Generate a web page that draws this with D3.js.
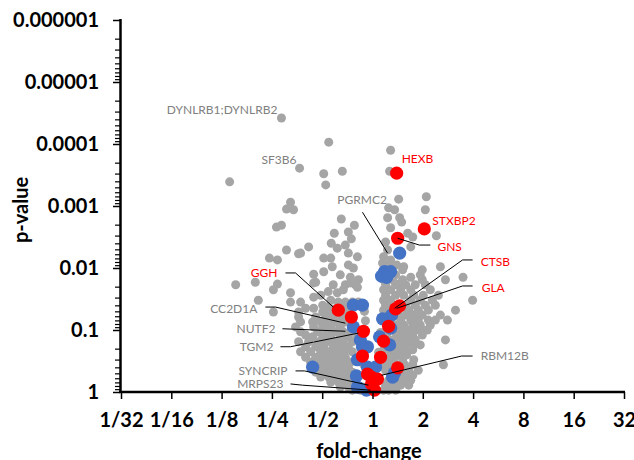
<!DOCTYPE html>
<html>
<head>
<meta charset="utf-8">
<script src="https://d3js.org/d3.v7.min.js"></script>
<style>
  body { margin: 0; background: #fff; }
  svg { display: block; }
</style>
</head>
<body>
<script>
// values: [log2 fold-change, -log10 p-value]
var greyPoints = [
  [-1.81,4.42],[-0.87,4.03],[0.36,3.90],[-1.45,3.61],[-0.97,3.52],[-0.60,3.56],[0.34,3.56],[-0.93,3.34],[-2.84,3.39],
  [-1.63,3.06],[-1.71,2.95],[-1.57,2.94],[-1.91,2.66],[-1.81,2.69],
  [0.52,3.11],[1.07,3.15],[1.05,2.94],[1.27,2.52],
  [-0.62,2.79],[-0.36,2.69],[-0.76,2.56],[-0.48,2.58],[-0.42,2.47],[-0.54,2.37],[-0.82,2.40],[-0.70,2.32],[-1.27,2.34],[-1.71,2.29],
  [0.32,2.97],[0.44,2.94],[0.30,2.81],[0.54,2.81],[0.58,2.74],[0.36,2.65],[0.80,2.50],[0.70,2.56],[0.26,2.42],[0.30,2.29],[0.22,2.18],[0.20,2.08],[0.76,2.34],
  [0.99,1.97],[1.35,2.02],[1.80,1.85],[1.45,1.81],[0.76,1.85],[0.62,2.02],[0.56,1.76],
  [-1.43,2.24],[-0.48,2.24],[-0.30,2.18],[-0.97,2.16],[-0.83,2.16],[-0.80,2.02],[-0.48,2.05],[-0.38,2.00],[-0.97,1.94],[-0.64,1.89],[-0.44,1.85],[-0.28,1.81],[-1.17,1.76],[-0.78,1.73],[-0.54,1.73],[-0.34,1.73],
  [-1.47,2.23],[-2.05,2.16],[-1.89,2.13],[-1.17,1.90],[-1.13,1.77],[-2.72,1.73],[-2.33,1.77],[-1.89,1.74],[-1.97,1.65],[-1.63,1.60],[-1.17,1.53],[-2.27,1.48],[-1.97,1.29],[-1.47,1.21],[-1.33,1.35],[-1.17,1.35],[-0.99,1.40],[-1.19,1.13],[-1.33,0.92],[-1.19,0.89],
  [-0.83,1.48],[-0.70,1.60],[-0.58,1.65],[-0.44,1.76],[-0.30,1.69],[-1.03,1.56],[-0.88,1.62],
  [-1.63,1.45],[-1.43,1.45],[-0.68,1.45],[-0.54,1.45],[-0.40,1.45],[-0.28,1.45],
  [-0.87,1.37],[-0.70,1.37],[-0.54,1.37],[-0.40,1.37],[-0.16,1.30],
  [-1.47,1.29],[-0.99,1.29],[-0.83,1.29],[-0.68,1.29],[-0.54,1.29],
  [-1.13,1.21],[-0.93,1.21],[-0.78,1.21],[-0.60,1.21],[-0.14,1.15],
  [-1.43,1.13],[-1.03,1.13],[-0.87,1.13],[-0.72,1.13],[-0.54,1.13],
  [-1.53,1.05],[-1.17,1.05],[-0.99,1.05],[-0.82,1.05],[-0.64,1.05],
  [-1.43,0.97],[-1.09,0.97],[-0.91,0.97],[-0.74,0.97],[-0.58,0.97],[-0.44,0.97],
  [-0.99,0.89],[-0.83,0.89],[-0.64,0.89],[-0.48,0.89],[-0.30,0.89],
  [-1.47,0.81],[-1.27,0.81],[-1.07,0.81],[-0.91,0.81],[-0.74,0.81],[-0.58,0.81],[-0.40,0.81],
  [-1.33,0.73],[-1.13,0.73],[-0.97,0.73],[-0.78,0.73],[-0.64,0.73],[-0.48,0.73],
  [-1.43,0.65],[-1.23,0.65],[-1.03,0.65],[-0.87,0.65],[-0.72,0.65],[-0.56,0.65],[-0.40,0.65],
  [-1.33,0.56],[-1.13,0.56],[-0.97,0.56],[-0.83,0.56],[-0.68,0.56],[-0.54,0.56],[-0.16,0.60],
  [-1.23,0.48],[-1.03,0.48],[-0.87,0.48],[-0.74,0.48],[-0.58,0.48],[-0.44,0.48],[-0.18,0.45],
  [-1.07,0.40],[-0.93,0.40],[-0.78,0.40],[-0.64,0.40],[-0.48,0.40],
  [-1.13,0.32],[-0.97,0.32],[-0.83,0.32],[-0.68,0.32],[-0.54,0.32],[-0.40,0.32],
  [-1.03,0.24],[-0.87,0.24],[-0.74,0.24],[-0.60,0.24],[-0.44,0.24],
  [-0.83,0.16],[-0.68,0.16],[-0.54,0.16],[-0.40,0.16],
  [-0.64,0.08],[-0.48,0.08],[-0.34,0.08],[-0.20,0.08],
  [-0.40,0.03],[-0.24,0.03],
  [0.22,0.03],[0.32,0.03],[0.46,0.03],
  [0.26,0.11],[0.40,0.11],[0.56,0.11],[0.72,0.11],
  [0.32,0.19],[0.48,0.19],[0.64,0.19],[0.76,0.19],
  [0.36,0.27],[0.52,0.27],[0.66,0.27],[0.80,0.27],
  [0.26,0.35],[0.56,0.35],[0.72,0.35],[0.91,0.35],
  [0.32,0.44],[0.46,0.44],[0.64,0.44],[0.80,0.44],[1.41,0.44],[0.18,0.44],
  [0.26,0.52],[0.42,0.52],[0.60,0.52],[0.82,0.52],[0.14,0.52],
  [0.36,0.60],[0.52,0.60],[0.68,0.60],[0.12,0.64],
  [0.22,0.68],[0.48,0.68],[0.64,0.68],[0.80,0.68],
  [0.52,0.76],[0.66,0.76],[0.82,0.76],[0.95,0.76],
  [0.40,0.84],[0.56,0.84],[0.72,0.84],[0.85,0.84],[1.45,0.84],
  [0.28,0.92],[0.48,0.92],[0.64,0.92],[0.80,0.92],[0.99,0.92],[0.16,0.96],
  [0.54,1.00],[0.70,1.00],[0.85,1.00],[0.99,1.00],[1.09,1.00],
  [0.46,1.08],[0.62,1.08],[0.80,1.08],[0.95,1.08],[1.15,1.08],
  [0.56,1.16],[0.76,1.16],[0.91,1.16],[1.11,1.16],[1.25,1.16],[1.49,1.16],
  [0.52,1.24],[0.66,1.24],[0.82,1.24],[0.99,1.24],[1.35,1.24],
  [0.22,1.32],[0.36,1.32],[0.72,1.32],[0.91,1.32],[1.11,1.32],[1.65,1.32],
  [0.26,1.40],[0.42,1.40],[0.66,1.40],[0.85,1.40],[1.05,1.40],[1.25,1.40],
  [0.22,1.48],[0.36,1.48],[0.76,1.48],[0.95,1.48],[1.19,1.48],[1.99,1.48],
  [0.26,1.56],[0.46,1.56],[0.62,1.56],[0.82,1.56],[1.01,1.56],[1.31,1.56],
  [0.22,1.65],[0.36,1.65],[0.56,1.65],[0.76,1.65],[1.15,1.65],
  [0.26,1.73],[0.46,1.73],[0.66,1.73],[0.85,1.73],[1.05,1.73],
  [0.22,1.81],[0.40,1.81],[0.60,1.81],[0.99,1.81],
  [0.46,1.89],[0.95,1.89],
  [0.60,1.97],
  [0.32,2.05],[0.48,2.05],
  [0.36,2.13]
];

var bluePoints = [
  [0.54,2.24],[0.24,1.94],[0.36,1.94],[0.28,1.85],[0.18,1.87],
  [-0.38,1.40],[-0.20,1.40],[-0.38,1.05],[0.20,1.18],[0.38,1.24],
  [0.14,0.89],[0.34,0.76],[-0.10,0.73],[-0.30,0.52],[-0.10,0.40],
  [-0.32,0.26],[0.40,0.24],[0.44,0.31],[-0.12,0.03],[-1.19,0.40],
  [-0.30,0.08],[0.06,0.40],[-0.20,0.73],[0.36,1.03],[-0.24,0.84]
];

var redPoints = [
  [0.48,3.53],[1.03,2.63],[0.50,2.48],[0.46,1.34],[0.54,1.39],
  [-0.68,1.32],[-0.42,1.21],[-0.18,0.98],[0.32,1.06],[0.22,0.82],
  [-0.20,0.58],[0.16,0.56],[0.50,0.39],[-0.10,0.29],[0.10,0.21],
  [-0.02,0.24],[0.04,0.03],[-0.02,0.13]
];

var xTickValues = [1/32, 1/16, 1/8, 1/4, 1/2, 1, 2, 4, 8, 16, 32];
var xTickLabels = ['1/32', '1/16', '1/8', '1/4', '1/2', '1', '2', '4', '8', '16', '32'];
var yTickValues = [1, 0.1, 0.01, 0.001, 0.0001, 0.00001, 0.000001];
var yTickLabels = ['1', '0.1', '0.01', '0.001', '0.0001', '0.00001', '0.000001'];

// gene callouts: text anchor and leader path in [log2 fold-change, -log10 p]
var callouts = [
  { name: 'DYNLRB1;DYNLRB2', red: false, at: [-1.89, 4.55], anchor: 'end', path: [] },
  { name: 'SF3B6', red: false, at: [-1.51, 3.74], anchor: 'end', path: [] },
  { name: 'PGRMC2', red: false, at: [-0.70, 3.10], anchor: 'start', path: [[-0.20, 2.90], [0.30, 2.24]] },
  { name: 'HEXB', red: true, at: [0.58, 3.77], anchor: 'start', path: [] },
  { name: 'STXBP2', red: true, at: [1.19, 2.76], anchor: 'start', path: [] },
  { name: 'GNS', red: true, at: [1.29, 2.35], anchor: 'start', path: [[1.15, 2.37], [0.93, 2.37], [0.50, 2.48]] },
  { name: 'CTSB', red: true, at: [2.15, 2.11], anchor: 'start', path: [[1.99, 2.13], [1.79, 2.13], [0.44, 1.35]] },
  { name: 'GLA', red: true, at: [2.17, 1.69], anchor: 'start', path: [[1.99, 1.71], [1.79, 1.71], [0.48, 1.35]] },
  { name: 'RBM12B', red: false, at: [2.15, 0.58], anchor: 'start', path: [[1.99, 0.58], [1.77, 0.58], [0.18, 0.27]] },
  { name: 'GGH', red: true, at: [-1.89, 1.92], anchor: 'end', path: [[-1.73, 1.92], [-1.53, 1.92], [-0.78, 1.37]] },
  { name: 'CC2D1A', red: false, at: [-2.29, 1.35], anchor: 'end', path: [[-2.13, 1.37], [-1.93, 1.37], [-0.54, 1.11]] },
  { name: 'NUTF2', red: false, at: [-1.93, 1.02], anchor: 'end', path: [[-1.79, 1.02], [-0.54, 0.98]] },
  { name: 'TGM2', red: false, at: [-1.97, 0.73], anchor: 'end', path: [[-1.83, 0.73], [-1.63, 0.73], [-0.28, 0.95]] },
  { name: 'SYNCRIP', red: false, at: [-1.69, 0.34], anchor: 'end', path: [[-1.53, 0.34], [-1.35, 0.34], [-0.08, 0.11]] },
  { name: 'MRPS23', red: false, at: [-1.77, 0.13], anchor: 'end', path: [[-1.63, 0.13], [-1.39, 0.11], [-0.04, 0.03]] }
];

(function () {
  var W = 634, H = 460;
  var font = 'Lato, "Open Sans", sans-serif';

  var svg = d3.select('body').append('svg')
    .attr('width', W)
    .attr('height', H)
    .style('background', '#fff');

  var x = d3.scaleLog().base(2).domain([1/32, 32]).range([121, 624]);
  var y = d3.scaleLog().domain([1, 1e-6]).range([392, 20]);

  function px(d) { return x(Math.pow(2, d[0])); }
  function py(d) { return y(Math.pow(10, -d[1])); }

  // points
  function dots(data, r, color) {
    svg.append('g').selectAll('circle')
      .data(data)
      .enter()
      .append('circle')
      .attr('cx', px)
      .attr('cy', py)
      .attr('r', r)
      .attr('fill', color);
  }
  dots(greyPoints, 4.5, '#a5a5a5');
  dots(bluePoints, 6.6, '#4472c4');
  dots(redPoints, 6.6, '#ff0000');

  // leader lines and gene labels
  var line = d3.line().x(px).y(py);
  callouts.forEach(function (c) {
    if (c.path.length) {
      svg.append('path')
        .attr('d', line(c.path))
        .attr('fill', 'none')
        .attr('stroke', '#000')
        .attr('stroke-width', 1);
    }
    svg.append('text')
      .attr('x', px(c.at))
      .attr('y', py(c.at))
      .attr('dy', '0.36em')
      .attr('text-anchor', c.anchor)
      .style('font-family', font)
      .style('font-size', '12px')
      .style('fill', c.red ? '#ff0000' : '#808080')
      .text(c.name);
  });

  // y axis: minor ticks then majors
  var minor = [];
  for (var e = 0; e < 6; e++) {
    for (var k = 2; k < 10; k++) minor.push(k * Math.pow(10, -(e + 1)));
  }
  var yMinor = svg.append('g')
    .attr('transform', 'translate(120,0)')
    .call(d3.axisLeft(y).tickValues(minor).tickSize(5).tickSizeOuter(0).tickFormat(''));
  yMinor.select('.domain').remove();
  yMinor.selectAll('line').attr('stroke', '#000').attr('stroke-width', 1.2);

  var yAxis = svg.append('g')
    .attr('transform', 'translate(120,0)')
    .call(d3.axisLeft(y).tickValues(yTickValues).tickSize(7).tickSizeOuter(0).tickPadding(14)
      .tickFormat(function (d, i) { return yTickLabels[i]; }));
  yAxis.select('.domain').remove();
  yAxis.selectAll('line').attr('stroke', '#000').attr('stroke-width', 1.5);
  yAxis.selectAll('text')
    .style('font-family', font)
    .style('font-weight', 'bold')
    .style('font-size', '20px')
    .attr('fill', '#000');

  var xAxis = svg.append('g')
    .attr('transform', 'translate(0,392)')
    .call(d3.axisBottom(x).tickValues(xTickValues).tickSize(7).tickSizeOuter(0).tickPadding(14)
      .tickFormat(function (d, i) { return xTickLabels[i]; }));
  xAxis.select('.domain').remove();
  xAxis.selectAll('line').attr('stroke', '#000').attr('stroke-width', 1.5);
  xAxis.selectAll('text')
    .style('font-family', font)
    .style('font-weight', 'bold')
    .style('font-size', '20px')
    .attr('fill', '#000');

  // thick axis lines
  svg.append('line')
    .attr('x1', 120.5).attr('x2', 120.5)
    .attr('y1', y(1e-6) - 1).attr('y2', 393)
    .attr('stroke', '#000').attr('stroke-width', 2.5);
  svg.append('line')
    .attr('x1', 119).attr('x2', x(32) + 1)
    .attr('y1', 392).attr('y2', 392)
    .attr('stroke', '#000').attr('stroke-width', 2.5);

  // axis titles
  svg.append('text')
    .attr('transform', 'translate(28,210) rotate(-90)')
    .attr('text-anchor', 'middle')
    .style('font-family', font)
    .style('font-weight', 'bold')
    .style('font-size', '20px')
    .text('p-value');

  svg.append('text')
    .attr('x', 369)
    .attr('y', 458)
    .attr('text-anchor', 'middle')
    .style('font-family', font)
    .style('font-weight', 'bold')
    .style('font-size', '20px')
    .text('fold-change');
})();
</script>
</body>
</html>
